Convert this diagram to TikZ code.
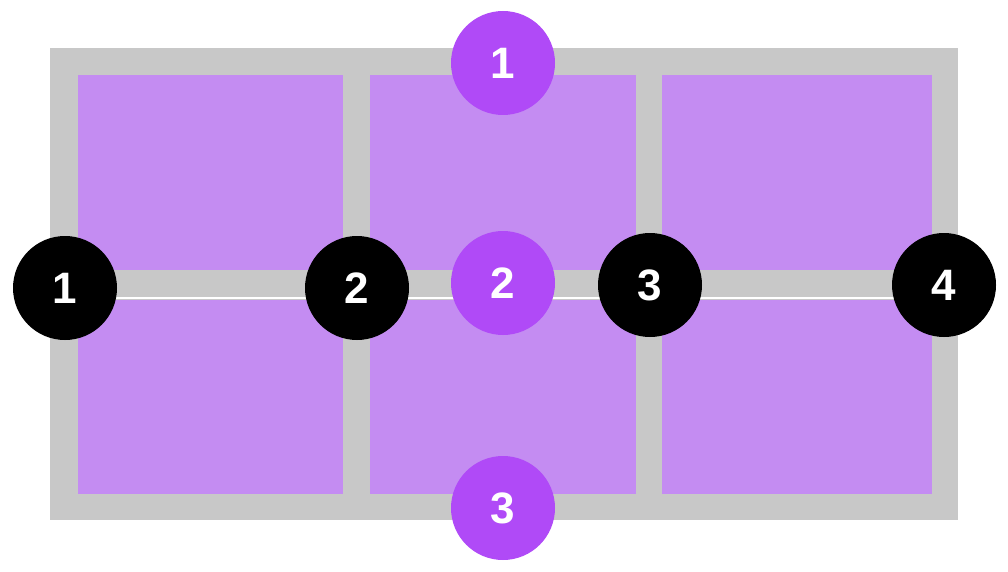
\documentclass[tikz,border=0pt]{standalone}
\usepackage{fontspec}
\setmainfont{Liberation Sans}
\definecolor{gr}{HTML}{C8C8C8}
\definecolor{cell}{HTML}{C48CF2}
\definecolor{pc}{HTML}{B04AF7}
\begin{document}
\begin{tikzpicture}[x=1pt,y=-1pt,
  cellbox/.style={fill=cell},
  numc/.style={circle,minimum size=104pt,inner sep=0pt,text=white,font=\fontsize{44}{44}\selectfont\bfseries},
  blk/.style={numc,fill=black},
  pur/.style={numc,fill=pc}]
\useasboundingbox (0,0) rectangle (1008,572);
\fill[gr] (50,48) rectangle (958,520);
\foreach \x/\w in {78/343,370/636,662/932}{
  \fill[cellbox] (\x,75) rectangle (\w,270);
  \fill[cellbox] (\x,300) rectangle (\w,494);
}
\draw[white,line width=1.5pt] (78,298) -- (932,298);
\node[blk] (b1) at (65,288) {1};
\node[blk] (b2) at (357,288) {2};
\node[blk] (b3) at (650,285) {3};
\node[blk] (b4) at (944,285) {4};
\node[pur] (p1) at (503,63) {1};
\node[pur] (p2) at (503,283) {2};
\node[pur] (p3) at (503,508) {3};
\end{tikzpicture}
\end{document}
